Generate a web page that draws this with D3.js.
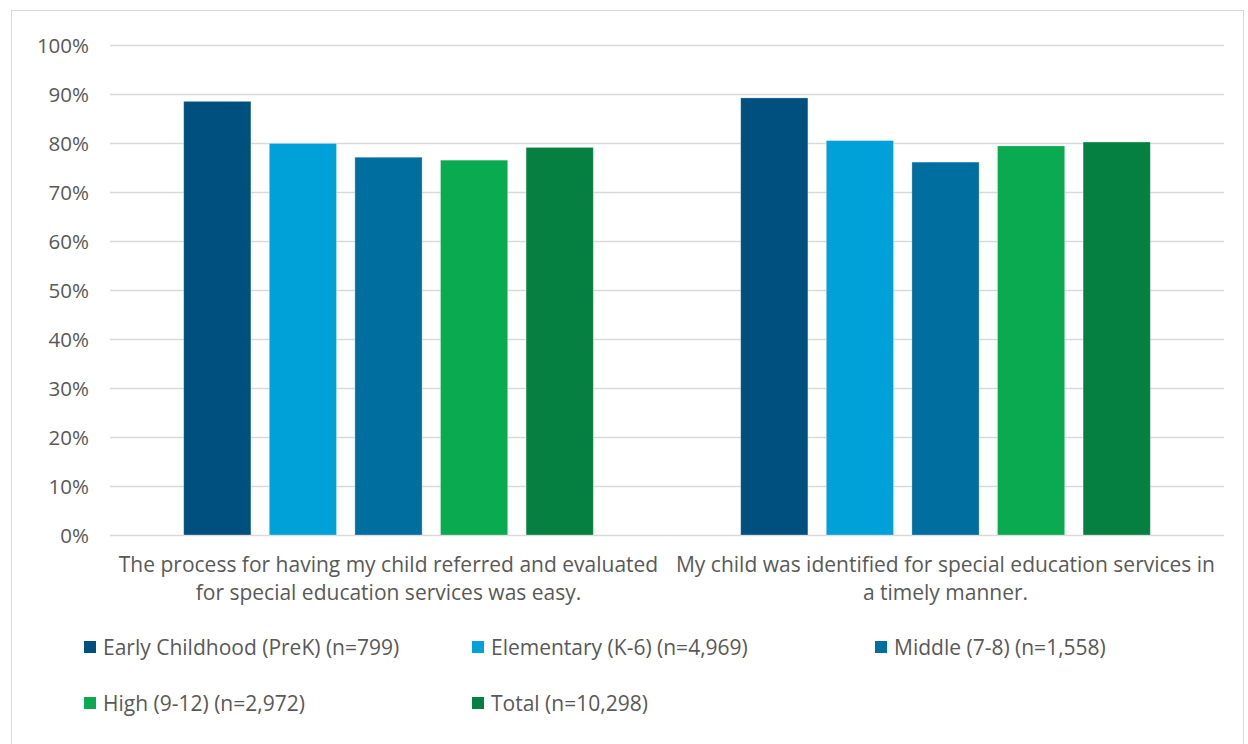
<!DOCTYPE html>
<html>
<head>
<meta charset="utf-8">
<script src="https://cdn.jsdelivr.net/npm/d3@7"></script>
<style>
  html, body { margin: 0; padding: 0; background: #ffffff; }
  svg { display: block; }
  text { font-family: "Open Sans", "Lato", sans-serif; fill: #595959; }
</style>
</head>
<body>
<svg id="chart" width="1248" height="744"></svg>
<script>
// Survey statements (x-axis categories), each label split over two lines
const categories = [
  "The process for having my child referred and evaluated|for special education services was easy.",
  "My child was identified for special education services in|a timely manner."
];

// Respondent groups (legend entries)
const seriesNames = [
  "Early Childhood (PreK) (n=799)",
  "Elementary (K-6) (n=4,969)",
  "Middle (7-8) (n=1,558)",
  "High (9-12) (n=2,972)",
  "Total (n=10,298)"
];

// Share agreeing, per series, per category
const earlyChildhood = [0.885, 0.892];
const elementary     = [0.799, 0.805];
const middle         = [0.771, 0.761];
const high           = [0.765, 0.794];
const total          = [0.791, 0.802];
const seriesValues = [earlyChildhood, elementary, middle, high, total];

const seriesColors = ["#00507f", "#00a0d8", "#006fa0", "#0aaa50", "#058040"];

// Y-axis ticks
const yTicks = [0, 0.1, 0.2, 0.3, 0.4, 0.5, 0.6, 0.7, 0.8, 0.9, 1.0];

const svg = d3.select("#chart");

// Chart area frame
svg.append("rect")
  .attr("x", 11.5).attr("y", 10.5)
  .attr("width", 1232).attr("height", 745)
  .attr("fill", "none").attr("stroke", "#d9d9d9").attr("stroke-width", 1);

const plot = { left: 110, right: 1224, top: 45, bottom: 535 };

const y = d3.scaleLinear().domain([0, 1]).range([plot.bottom, plot.top]);

const x0 = d3.scaleBand()
  .domain(categories)
  .range([plot.left, plot.right])
  .paddingInner(0).paddingOuter(0);

// Bars occupy the middle of each category band
const clusterWidth = 5 * 85.6;
const x1 = d3.scaleBand()
  .domain(d3.range(seriesNames.length))
  .range([0, clusterWidth])
  .paddingInner(0.215).paddingOuter(0.1075);

// Gridlines
svg.append("g")
  .selectAll("line")
  .data(yTicks)
  .join("line")
  .attr("x1", plot.left).attr("x2", plot.right)
  .attr("y1", d => Math.round(y(d)) + 0.5)
  .attr("y2", d => Math.round(y(d)) + 0.5)
  .attr("stroke", "#d9d9d9").attr("stroke-width", 1.3);

// Y-axis labels
const yAxis = d3.axisLeft(y)
  .tickValues(yTicks)
  .tickFormat(d3.format(".0%"))
  .tickSize(0)
  .tickPadding(0);
const yAxisG = svg.append("g")
  .attr("transform", `translate(${plot.left - 21},0)`)
  .call(yAxis);
yAxisG.select(".domain").remove();
yAxisG.selectAll("text")
  .attr("font-family", null)
  .style("font-size", "20.5px")
  .attr("dy", "0.36em");

// Bars
const groups = svg.append("g")
  .selectAll("g")
  .data(categories)
  .join("g")
  .attr("transform", d => `translate(${x0(d) + (x0.bandwidth() - clusterWidth) / 2},0)`);

groups.selectAll("rect")
  .data((c, ci) => seriesValues.map((vals, si) => ({ si, v: vals[ci] })))
  .join("rect")
  .attr("x", d => x1(d.si))
  .attr("width", x1.bandwidth())
  .attr("y", d => y(d.v))
  .attr("height", d => y(0) - y(d.v))
  .attr("fill", d => seriesColors[d.si])
  .attr("stroke", "rgba(255,255,255,0.35)")
  .attr("stroke-width", 0.8);

// Category labels
const catG = svg.append("g");
categories.forEach(c => {
  const lines = c.split("|");
  const t = catG.append("text")
    .attr("text-anchor", "middle")
    .style("font-size", "21px");
  lines.forEach((ln, i) => {
    t.append("tspan")
      .attr("x", x0(c) + x0.bandwidth() / 2)
      .attr("y", 572 + i * 28)
      .text(ln);
  });
});

// Legend
const legendPos = [
  [84, 647], [472, 647], [875, 647],
  [84, 703], [472, 703]
];
const legend = svg.append("g")
  .selectAll("g")
  .data(seriesNames)
  .join("g")
  .attr("transform", (d, i) => `translate(${legendPos[i][0]},${legendPos[i][1]})`);
legend.append("rect")
  .attr("x", 0).attr("y", -6)
  .attr("width", 12).attr("height", 12)
  .attr("fill", (d, i) => seriesColors[i]);
legend.append("text")
  .attr("x", 19).attr("y", 0).attr("dy", "0.36em")
  .style("font-size", "21px")
  .text(d => d);
</script>
</body>
</html>
